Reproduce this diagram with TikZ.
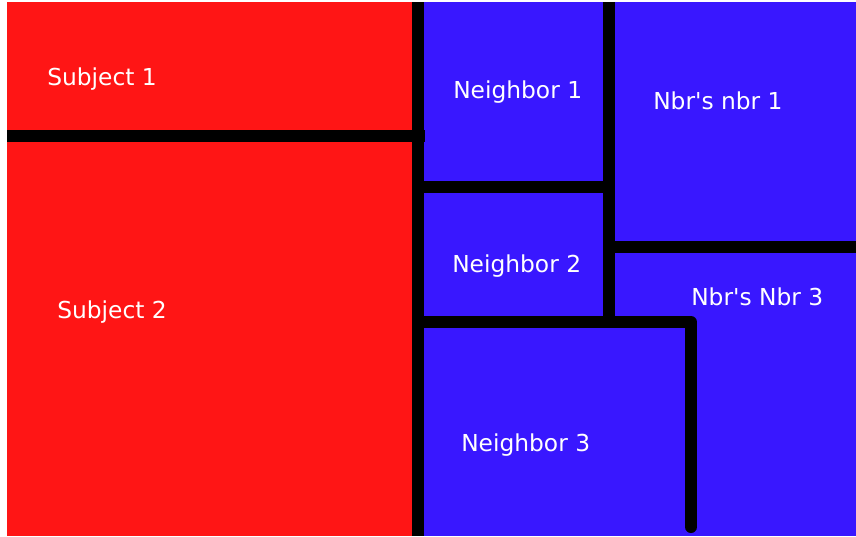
\documentclass[tikz,border=0pt]{standalone}
\usepackage{fontspec}
\setmainfont{DejaVu Sans}
\definecolor{subjred}{RGB}{255,21,21}
\definecolor{nbrblue}{RGB}{57,23,255}
\tikzset{
  cell/.style={anchor=base west,inner sep=0pt,text=white,font=\fontsize{17.5}{20}\selectfont},
  wall/.style={line width=9pt,black}
}
\begin{document}
\begin{tikzpicture}[line join=round,x=0.75pt,y=-0.75pt]
	\useasboundingbox (0,0) rectangle (856,536);
	\fill[color=subjred] (7,2) rectangle (418,536);
	\fill[color=nbrblue] (418,2) rectangle (856,536);
	\begin{scope}
		\clip (7,2) rectangle (856,536);
		\draw[wall] (418,2)--(418,536);
		\draw[wall] (7,136)--(425,136);
		\draw[wall] (418,187)--(609,187);
		\draw[wall] (609,2)--(609,322);
		\draw[wall] (609,247)--(856,247);
		\draw[wall,line cap=round] (418,322)--(691,322)--(691,527);
	\end{scope}
	\node[cell] (subj1) at (47,85) {Subject 1};
	\node[cell] (subj2) at (57,318) {Subject 2};
	\node[cell] (nbr1) at (453,98) {Neighbor 1};
	\node[cell] (nbr2) at (452,272) {Neighbor 2};
	\node[cell] (nbr3) at (461,451) {Neighbor 3};
	\node[cell] (nbrnbr1) at (653,109) {Nbr\textquotesingle s nbr 1};
	\node[cell] (nbrnbr3) at (691,305) {Nbr\textquotesingle s Nbr 3};
\end{tikzpicture}
\end{document}
